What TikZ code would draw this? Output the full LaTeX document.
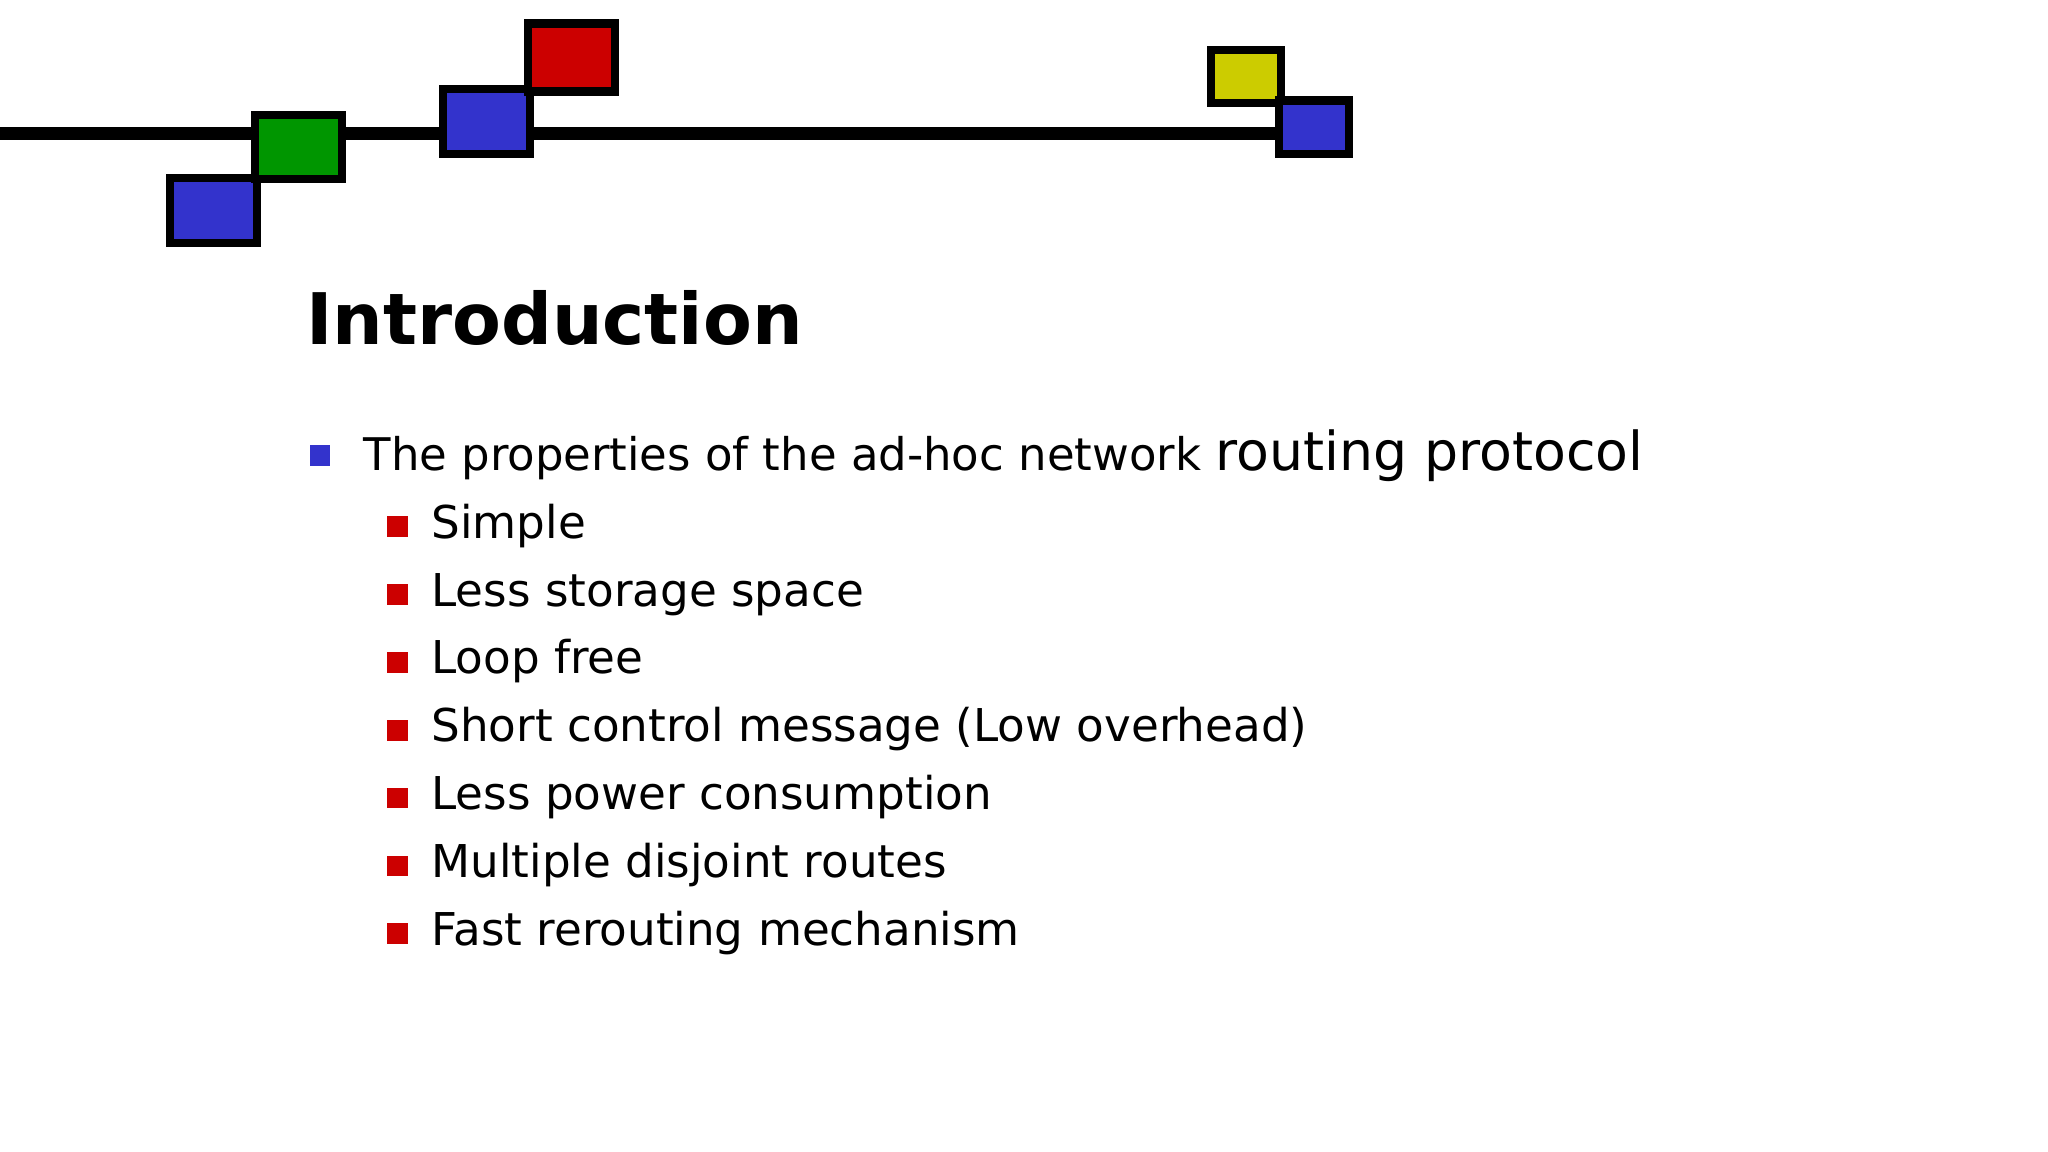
\documentclass[tikz,border=0pt]{standalone}
\usepackage{fontspec}
\setmainfont{DejaVu Sans}
\definecolor{sqblue}{RGB}{51,51,204}
\definecolor{sqgreen}{RGB}{0,150,0}
\definecolor{sqred}{RGB}{204,0,0}
\definecolor{sqyellow}{RGB}{204,204,0}
\tikzset{sq/.style={draw=black,line width=3.6pt},
 txt/.style={anchor=base west,inner sep=0pt}}
\begin{document}
\begin{tikzpicture}[x=0.02cm,y=-0.02cm]
\useasboundingbox (0,0) rectangle (1568,882);
\draw[line width=5.5pt] (0,102) -- (980,102);
\filldraw[sq,fill=sqblue] (130,136) rectangle (197,186);
\filldraw[sq,fill=sqgreen] (195,88) rectangle (262,137);
\filldraw[sq,fill=sqblue] (339,68) rectangle (406,118);
\filldraw[sq,fill=sqred] (404,18) rectangle (471,70);
\filldraw[sq,fill=sqyellow] (927,38) rectangle (981,79);
\filldraw[sq,fill=sqblue] (979,77) rectangle (1033,118);
\node[txt,font=\fontsize{31}{36}\selectfont\bfseries] (title) at (234,264) {Introduction};
\fill[sqblue] (237,341) rectangle (253,357);
\node[txt] (l0) at (278,360) {\fontsize{19.6}{24}\selectfont The properties of the ad-hoc network \fontsize{23.4}{28}\selectfont routing protocol};
\foreach \t [count=\i from 0] in {Simple,Less storage space,Loop free,Short control message (Low overhead),Less power consumption,Multiple disjoint routes,Fast rerouting mechanism}{
 \fill[sqred] (296,{395+52*\i}) rectangle (312,{411+52*\i});
 \node[txt,font=\fontsize{19.7}{24}\selectfont] (s\i) at (330,{412+52*\i}) {\t};
}
\end{tikzpicture}
\end{document}
